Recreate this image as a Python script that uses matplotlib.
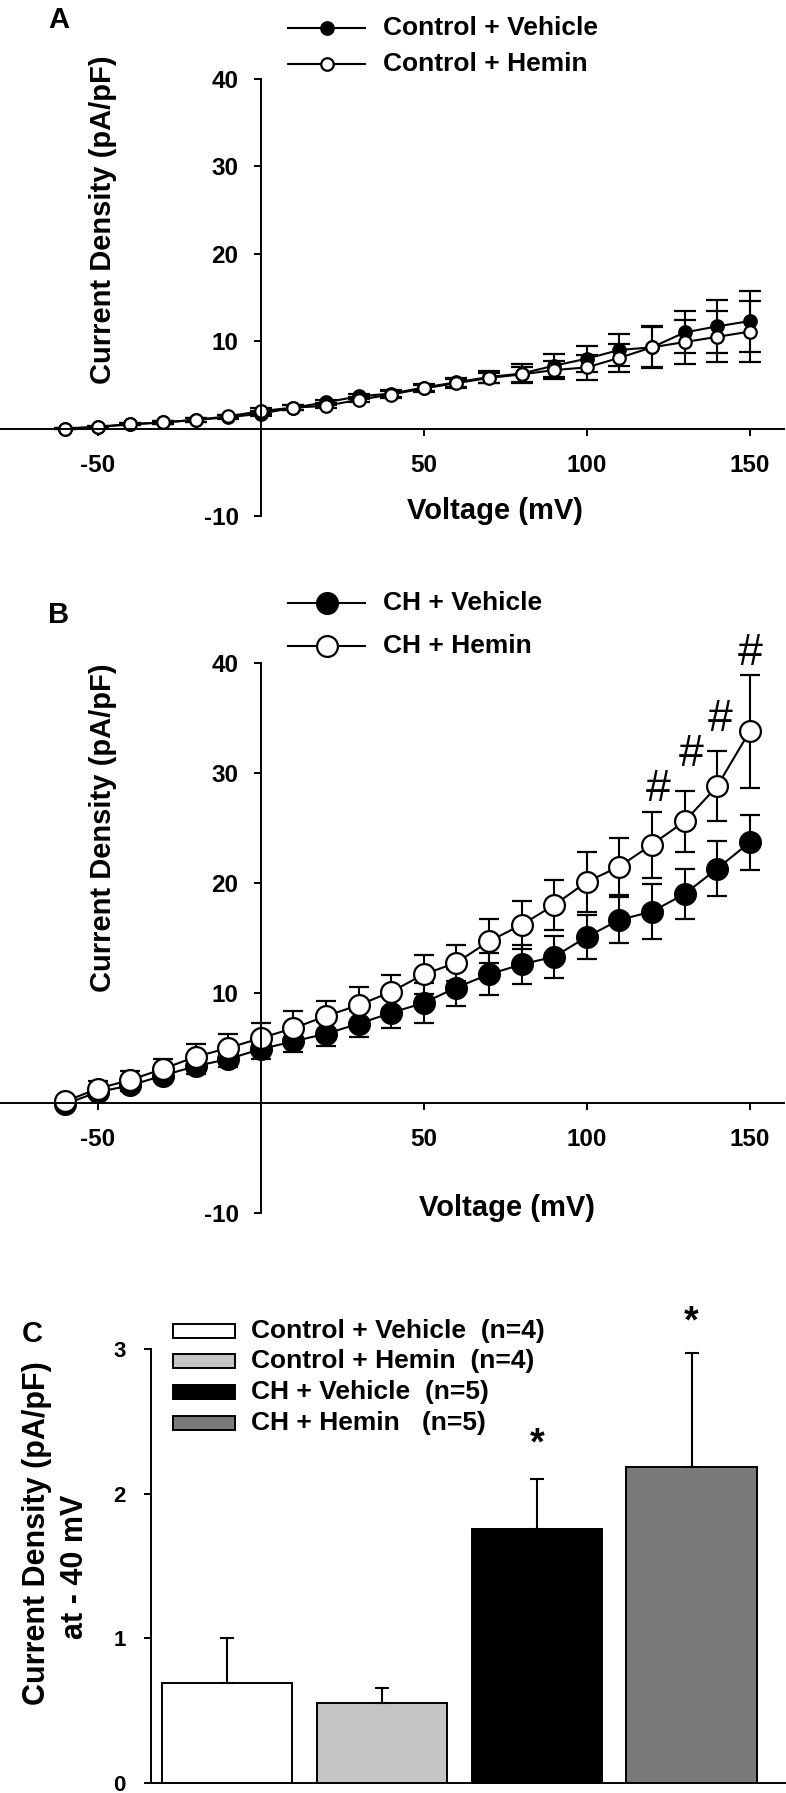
import matplotlib
matplotlib.use("Agg")
import matplotlib.pyplot as plt
from matplotlib.lines import Line2D
from matplotlib.patches import Rectangle

plt.rcParams['font.family'] = ['Liberation Sans', 'DejaVu Sans']
plt.rcParams['font.weight'] = 'bold'
plt.rcParams['axes.unicode_minus'] = False

# voltage steps (mV)
voltage = [-60, -50, -40, -30, -20, -10, 0, 10, 20, 30, 40, 50,
           60, 70, 80, 90, 100, 110, 120, 130, 140, 150]

# panel A: control rats
ctrl_veh = [0.0, 0.2, 0.5, 0.7, 1.0, 1.3, 1.7, 2.4, 3.0, 3.7, 4.0, 4.7,
            5.3, 5.9, 6.3, 7.2, 8.0, 9.0, 9.3, 11.0, 11.7, 12.3]
ctrl_veh_err = [0.1, 0.1, 0.1, 0.2, 0.2, 0.2, 0.3, 0.3, 0.3, 0.3, 0.4, 0.4,
                0.5, 0.7, 1.1, 1.3, 1.5, 1.8, 2.4, 2.4, 3.0, 3.5]
ctrl_hem = [0.0, 0.2, 0.5, 0.7, 1.0, 1.4, 2.0, 2.4, 2.6, 3.3, 3.9, 4.6,
            5.2, 5.8, 6.2, 6.7, 7.0, 8.1, 9.3, 9.9, 10.5, 11.1]
ctrl_hem_err = [0.1, 0.1, 0.1, 0.2, 0.2, 0.2, 0.3, 0.3, 0.3, 0.3, 0.4, 0.4,
                0.5, 0.6, 0.9, 1.0, 1.4, 1.6, 2.3, 2.5, 2.9, 3.5]

# panel B: CH rats
ch_veh = [-0.1, 1.0, 1.6, 2.5, 3.35, 4.0, 4.9, 5.6, 6.3, 7.2, 8.2, 9.1,
          10.5, 11.7, 12.6, 13.3, 15.1, 16.65, 17.4, 19.0, 21.3, 23.7]
ch_veh_err = [0.2, 0.4, 0.5, 0.5, 0.75, 0.7, 0.9, 1.0, 1.1, 1.2, 1.4, 1.8,
              1.7, 1.9, 1.8, 1.9, 2.0, 2.1, 2.5, 2.3, 2.5, 2.5]
ch_hem = [0.15, 1.3, 2.1, 3.1, 4.2, 5.0, 5.9, 6.8, 7.9, 8.9, 10.1, 11.7,
          12.75, 14.7, 16.2, 18.0, 20.1, 21.5, 23.5, 25.6, 28.8, 33.8]
ch_hem_err = [0.2, 0.7, 0.8, 0.9, 1.15, 1.3, 1.4, 1.55, 1.4, 1.65, 1.55, 1.8,
              1.65, 2.0, 2.2, 2.3, 2.7, 2.6, 3.0, 2.8, 3.2, 5.15]
hash_x = [122, 132, 141, 150]
hash_y = [28.5, 31.7, 34.9, 40.9]

# panel C: current density at -40 mV
groups = ['Control + Vehicle  (n=4)', 'Control + Hemin  (n=4)',
          'CH + Vehicle  (n=5)', 'CH + Hemin   (n=5)']
bar_vals = [0.69, 0.555, 1.755, 2.185]
bar_err = [0.31, 0.105, 0.345, 0.785]
bar_colors = ['white', '#c4c4c4', 'black', '#7a7a7a']
star_idx = [2, 3]
star_y = [2.34, 3.18]

W, H = 786, 1793
fig = plt.figure(figsize=(W / 100, H / 100), dpi=100)


def box(x0, y0, x1, y1):
    return [x0 / W, 1 - y1 / H, (x1 - x0) / W, (y1 - y0) / H]


def iv_axes(top, bottom):
    ax = fig.add_axes(box(0, top, 784, bottom))
    ax.set_xlim(-80, 160.5)
    ax.set_ylim(-10, 40)
    for s in ['top', 'right']:
        ax.spines[s].set_visible(False)
    ax.spines['left'].set_position(('data', 0))
    ax.spines['bottom'].set_position(('data', 0))
    for s in ['left', 'bottom']:
        ax.spines[s].set_linewidth(1.4)
    ax.set_xticks([-50, 50, 100, 150])
    ax.set_yticks([-10, 10, 20, 30, 40])
    ax.tick_params(axis='x', direction='out', length=5, width=1.4, pad=13, labelsize=17.5)
    ax.tick_params(axis='y', direction='out', length=5, width=1.4, pad=11, labelsize=17.5)
    ax.patch.set_alpha(0)
    return ax


def legend_row(y, label, filled, ms):
    fig.add_artist(Line2D([288 / W, 365 / W], [1 - y / H, 1 - y / H], color='black', lw=1.5))
    fig.add_artist(Line2D([327 / W], [1 - y / H], marker='o', ms=ms, mec='black', mew=1.6,
                          mfc='black' if filled else 'white'))
    fig.text(383 / W, 1 - y / H, label, fontsize=19, va='center', ha='left')


# ---- panel A ----
axA = iv_axes(79, 516)
for vals, err, face in [(ctrl_veh, ctrl_veh_err, 'black'), (ctrl_hem, ctrl_hem_err, 'white')]:
    axA.errorbar(voltage, vals, yerr=err, fmt='-o', color='black', mfc=face, mec='black',
                 ms=9, mew=1.6, lw=1.5, elinewidth=1.5, capsize=8, capthick=1.5, clip_on=False)
fig.text(59 / W, 1 - 20 / H, 'A', fontsize=21, ha='center', va='center')
fig.text(103 / W, 1 - 220 / H, 'Current Density (pA/pF)', fontsize=21, rotation=90,
         ha='center', va='center')
fig.text(495 / W, 1 - 511 / H, 'Voltage (mV)', fontsize=21, ha='center', va='center')
legend_row(28, 'Control + Vehicle', True, 9)
legend_row(64, 'Control + Hemin', False, 9)

# ---- panel B ----
axB = iv_axes(663, 1213)
for vals, err, face in [(ch_veh, ch_veh_err, 'black'), (ch_hem, ch_hem_err, 'white')]:
    axB.errorbar(voltage, vals, yerr=err, fmt='-o', color='black', mfc=face, mec='black',
                 ms=15, mew=1.6, lw=1.5, elinewidth=1.5, capsize=7, capthick=1.5, clip_on=False)
for hx, hy in zip(hash_x, hash_y):
    axB.text(hx, hy, '#', fontsize=32, fontweight='normal', ha='center', va='center')
fig.text(59 / W, 1 - 615 / H, 'B', fontsize=21, ha='center', va='center')
fig.text(103 / W, 1 - 828 / H, 'Current Density (pA/pF)', fontsize=21, rotation=90,
         ha='center', va='center')
fig.text(507 / W, 1 - 1208 / H, 'Voltage (mV)', fontsize=21, ha='center', va='center')
legend_row(603, 'CH + Vehicle', True, 15)
legend_row(646, 'CH + Hemin', False, 15)

# ---- panel C ----
axC = fig.add_axes(box(151, 1349, 786, 1783))
pos = list(range(len(bar_vals)))
axC.bar(pos, bar_vals, width=0.84, color=bar_colors, edgecolor='black', linewidth=1.4)
axC.errorbar(pos, bar_vals, yerr=[[0] * len(bar_err), bar_err], fmt='none', ecolor='black',
             elinewidth=1.5, capsize=5, capthick=1.5, clip_on=False)
for i, sy in zip(star_idx, star_y):
    axC.text(pos[i], sy, '*', fontsize=27, ha='center', va='center')
axC.set_xlim(-0.49, 3.61)
axC.set_ylim(0, 3)
for s in ['top', 'right']:
    axC.spines[s].set_visible(False)
for s in ['left', 'bottom']:
    axC.spines[s].set_linewidth(1.4)
axC.set_xticks([])
axC.set_yticks([0, 1, 2, 3])
axC.tick_params(axis='y', direction='out', length=5, width=1.4, pad=13, labelsize=16)
axC.patch.set_alpha(0)
fig.text(32 / W, 1 - 1334 / H, 'C', fontsize=21, ha='center', va='center')
fig.text(37 / W, 1 - 1533 / H, 'Current Density (pA/pF)', fontsize=22, rotation=90,
         ha='center', va='center')
fig.text(75 / W, 1 - 1567 / H, 'at - 40 mV', fontsize=22, rotation=90,
         ha='center', va='center')
for row_y, label, col in zip([1331, 1361, 1392, 1423], groups, bar_colors):
    fig.add_artist(Rectangle((173 / W, 1 - (row_y + 7) / H), 62 / W, 14 / H,
                             facecolor=col, edgecolor='black', lw=1.4, transform=fig.transFigure))
    fig.text(251 / W, 1 - row_y / H, label, fontsize=19, ha='left', va='center')

fig.savefig('out.png', dpi=100)
